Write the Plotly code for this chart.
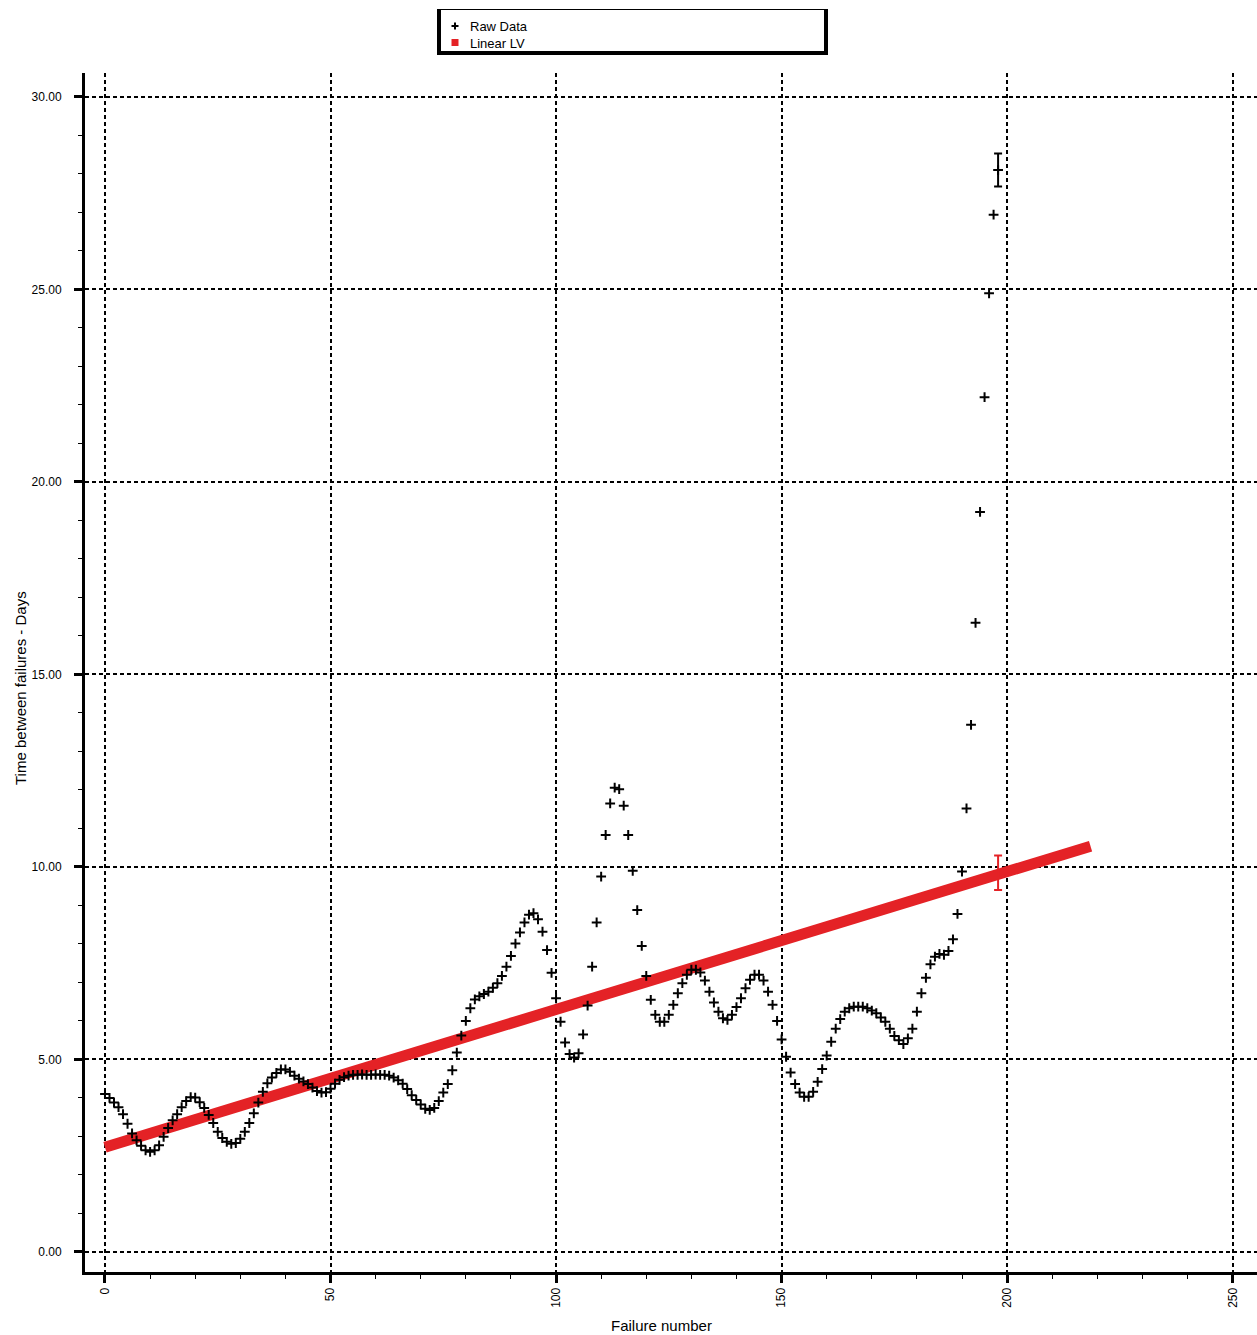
import plotly.graph_objects as go

# ---- data ----
failure_number = list(range(0, 199))
time_between_failures = [
    4.10, 4.00, 3.88, 3.76, 3.58, 3.33, 3.08, 2.90, 2.76, 2.64,
    2.60, 2.64, 2.77, 2.99, 3.22, 3.42, 3.58, 3.76, 3.92, 4.02,
    4.01, 3.89, 3.74, 3.56, 3.35, 3.12, 2.96, 2.86, 2.81, 2.83,
    2.94, 3.12, 3.35, 3.60, 3.88, 4.16, 4.38, 4.53, 4.65, 4.74,
    4.74, 4.68, 4.58, 4.50, 4.43, 4.36, 4.27, 4.18, 4.14, 4.15,
    4.24, 4.37, 4.47, 4.54, 4.58, 4.60, 4.60, 4.61, 4.60, 4.60,
    4.61, 4.60, 4.60, 4.58, 4.53, 4.46, 4.37, 4.23, 4.07, 3.95,
    3.83, 3.72, 3.69, 3.74, 3.92, 4.14, 4.36, 4.72, 5.18, 5.62,
    6.00, 6.33, 6.56, 6.64, 6.70, 6.76, 6.86, 6.98, 7.17, 7.41,
    7.69, 8.01, 8.30, 8.56, 8.76, 8.80, 8.64, 8.32, 7.84, 7.25,
    6.59, 5.98, 5.44, 5.14, 5.05, 5.16, 5.65, 6.40, 7.41, 8.56,
    9.75, 10.83, 11.65, 12.06, 12.02, 11.59, 10.83, 9.90, 8.88, 7.95,
    7.17, 6.55, 6.16, 5.98, 5.98, 6.16, 6.42, 6.72, 6.98, 7.20,
    7.33, 7.33, 7.26, 7.05, 6.76, 6.48, 6.24, 6.07, 6.03, 6.16,
    6.36, 6.59, 6.85, 7.07, 7.20, 7.20, 7.05, 6.76, 6.42, 6.00,
    5.52, 5.07, 4.66, 4.36, 4.14, 4.03, 4.03, 4.16, 4.42, 4.75,
    5.10, 5.46, 5.80, 6.05, 6.24, 6.33, 6.37, 6.37, 6.37, 6.33,
    6.27, 6.20, 6.09, 5.98, 5.80, 5.61, 5.50, 5.40, 5.55, 5.80,
    6.24, 6.72, 7.12, 7.47, 7.67, 7.74, 7.72, 7.82, 8.12, 8.78,
    9.88, 11.52, 13.69, 16.34, 19.22, 22.20, 24.90, 26.94, 28.10,
]

linear_lv_x = [0, 218.5]
linear_lv_y = [2.72, 10.54]

raw_err_x = [198]
raw_err_y = [28.10]
raw_err = [0.43]

lv_err_x = [198]
lv_err_y = [9.85]
lv_err = [0.45]

x_ticks = [0, 50, 100, 150, 200, 250]
y_ticks = [0, 5, 10, 15, 20, 25, 30]

legend_names = ["Raw Data", "Linear LV"]

RED = "rgb(228,34,38)"
FONT = "Liberation Sans"

W, H = 1257, 1335
ML, MR, MT, MB = 85, 0, 73, 63
PW = W - ML - MR
PH = H - MT - MB


def px_to_paper_x(px):
    return (px - ML) / PW


def px_to_paper_y(py):
    return (H - MB - py) / PH


fig = go.Figure()

fig.add_trace(go.Scatter(
    x=linear_lv_x, y=linear_lv_y, mode="lines", name=legend_names[1],
    line=dict(color=RED, width=11),
    showlegend=False, hoverinfo="skip",
))

fig.add_trace(go.Scatter(
    x=failure_number, y=time_between_failures, mode="markers",
    name=legend_names[0], showlegend=False,
    marker=dict(symbol="cross-thin", size=7, color="black",
                line=dict(color="black", width=2)),
))

fig.add_trace(go.Scatter(
    x=raw_err_x, y=raw_err_y, mode="markers",
    marker=dict(size=1, color="black", opacity=0),
    error_y=dict(type="data", array=raw_err, visible=True,
                 color="black", thickness=2, width=4),
    showlegend=False, hoverinfo="skip",
))

fig.add_trace(go.Scatter(
    x=lv_err_x, y=lv_err_y, mode="markers",
    marker=dict(size=1, color=RED, opacity=0),
    error_y=dict(type="data", array=lv_err, visible=True,
                 color=RED, thickness=2, width=4),
    showlegend=False, hoverinfo="skip",
))

# ---- legend box with shadow ----
def rect(x0, x1, y0, y1, **kw):
    fig.add_shape(type="rect", xref="paper", yref="paper",
                  x0=px_to_paper_x(x0), x1=px_to_paper_x(x1),
                  y0=px_to_paper_y(y1), y1=px_to_paper_y(y0),
                  layer="above", **kw)


def seg(x0, y0, x1, y1, color, width):
    fig.add_shape(type="line", xref="paper", yref="paper",
                  x0=px_to_paper_x(x0), x1=px_to_paper_x(x1),
                  y0=px_to_paper_y(y0), y1=px_to_paper_y(y1),
                  line=dict(color=color, width=width), layer="above")


rect(437, 828, 9, 55, fillcolor="black", line=dict(width=0))
rect(441, 824, 10, 51, fillcolor="white", line=dict(width=0))

# legend symbols
seg(451.5, 26, 458.5, 26, "black", 2)
seg(455, 22.5, 455, 29.5, "black", 2)
rect(451.5, 458.5, 39, 46, fillcolor=RED, line=dict(width=0))

for name, ypx in zip(legend_names, [26, 43]):
    fig.add_annotation(text=name, xref="paper", yref="paper",
                       x=px_to_paper_x(468), y=px_to_paper_y(ypx),
                       xanchor="left", yanchor="middle", showarrow=False,
                       font=dict(family=FONT, size=13, color="black"))

# axis titles
fig.add_annotation(text="Failure number", xref="paper", yref="paper",
                   x=px_to_paper_x(661), y=px_to_paper_y(1325),
                   xanchor="center", yanchor="middle", showarrow=False,
                   font=dict(family=FONT, size=15, color="black"))
fig.add_annotation(text="Time between failures - Days", xref="paper", yref="paper",
                   x=px_to_paper_x(20), y=px_to_paper_y(688),
                   xanchor="center", yanchor="middle", showarrow=False,
                   textangle=-90,
                   font=dict(family=FONT, size=15, color="black"))

grid = dict(showgrid=True, gridcolor="black", gridwidth=2, griddash="4px,3px")

fig.update_layout(
    width=W, height=H,
    margin=dict(l=ML, r=MR, t=MT, b=MB, pad=0, autoexpand=False),
    paper_bgcolor="white", plot_bgcolor="white",
    font=dict(family=FONT, color="black", size=12),
    showlegend=False,
    xaxis=dict(
        range=[-4.43, 255.4], tickvals=x_ticks,
        ticktext=[str(v) for v in x_ticks], tickangle=-90,
        ticks="outside", ticklen=8, tickwidth=3, tickcolor="black",
        minor=dict(dtick=10, tick0=0, ticks="outside", ticklen=4,
                   tickwidth=1, tickcolor="black", showgrid=False),
        showline=True, linewidth=3, linecolor="black", zeroline=False,
        tickfont=dict(size=12),
        **grid,
    ),
    yaxis=dict(
        range=[-0.52, 30.62], tickvals=y_ticks, tickformat=".2f",
        ticks="outside", ticklen=8, tickwidth=3, tickcolor="black",
        minor=dict(dtick=1, tick0=0, ticks="outside", ticklen=4,
                   tickwidth=1, tickcolor="black", showgrid=False),
        showline=True, linewidth=3, linecolor="black", zeroline=False,
        tickfont=dict(size=12), ticklabelstandoff=10,
        **grid,
    ),
)

fig.write_html("out.html")
